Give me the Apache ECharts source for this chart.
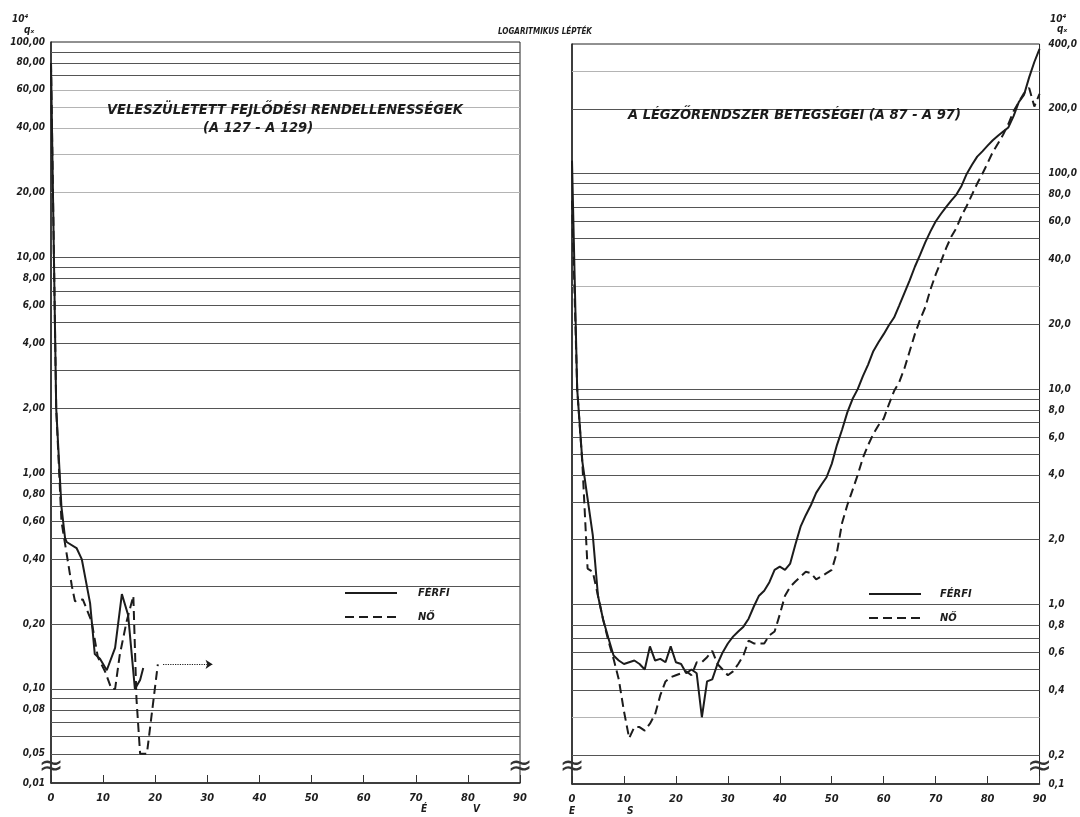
<!DOCTYPE html>
<html>
<head>
<meta charset="utf-8">
<script src="https://cdn.jsdelivr.net/npm/echarts@6/dist/echarts.min.js"></script>
<style>
  html, body { margin: 0; padding: 0; background: #ffffff; }
  #chart { width: 1080px; height: 817px; }
</style>
</head>
<body>
<div id="chart"></div>
<script>
// ---- Data: q_x × 10^4 by age, log scale ----

// Age axis ticks
const ageTicks = [0, 10, 20, 30, 40, 50, 60, 70, 80, 90];

// Congenital malformations (A 127 - A 129): [age, q_x]
const malformMale = [
  [0, 80], [1, 2.0], [2, 0.70], [2.7, 0.50], [3, 0.48], [4.9, 0.45], [5.9, 0.40],
  [7.5, 0.25], [8.4, 0.145], [9.4, 0.138], [10.7, 0.122], [12.3, 0.155],
  [13.6, 0.275], [14.8, 0.22], [16.1, 0.10], [17.1, 0.11], [17.7, 0.125]
];
const malformFemale = [
  [0, 80], [1, 2.0], [2, 0.60], [2.7, 0.47], [4, 0.30], [4.6, 0.255], [6.1, 0.26],
  [7.8, 0.205], [9, 0.14], [10.4, 0.12], [11.6, 0.10], [12.3, 0.10], [13.2, 0.144],
  [14.5, 0.205], [15.8, 0.27], [16.4, 0.09], [17.1, 0.05], [18.4, 0.05], [20.5, 0.13]
];
// dotted continuation of the female curve
const malformFemaleTail = [[21.5, 0.13], [31, 0.13]];

// Diseases of the respiratory system (A 87 - A 97), single years of age
const respAges = [
  0, 1, 2, 3, 4, 5, 6, 7, 8, 9, 10, 11, 12, 13, 14, 15, 16, 17, 18, 19,
  20, 21, 22, 23, 24, 25, 26, 27, 28, 29, 30, 31, 32, 33, 34, 35, 36, 37, 38, 39,
  40, 41, 42, 43, 44, 45, 46, 47, 48, 49, 50, 51, 52, 53, 54, 55, 56, 57, 58, 59,
  60, 61, 62, 63, 64, 65, 66, 67, 68, 69, 70, 71, 72, 73, 74, 75, 76, 77, 78, 79,
  80, 81, 82, 83, 84, 85, 86, 87, 88, 89, 90
];
const respMale = [
  115, 10, 4.6, 3.1, 2.1, 1.1, 0.85, 0.70, 0.58, 0.55,
  0.53, 0.54, 0.55, 0.53, 0.50, 0.64, 0.55, 0.56, 0.54, 0.64,
  0.54, 0.53, 0.48, 0.50, 0.48, 0.30, 0.44, 0.45, 0.53, 0.60,
  0.66, 0.71, 0.75, 0.79, 0.86, 0.98, 1.10, 1.16, 1.27, 1.45,
  1.50, 1.45, 1.55, 1.90, 2.30, 2.60, 2.90, 3.30, 3.60, 3.90,
  4.50, 5.50, 6.50, 7.80, 9.0, 10.0, 11.5, 13.0, 15.0, 16.5,
  18.0, 19.8, 21.5, 24.5, 28.0, 32.0, 37.0, 42.0, 48.0, 54.0,
  60.0, 65.0, 70.0, 75.0, 80.0, 88.0, 100, 110, 120, 127,
  135, 143, 150, 157, 164, 185, 215, 232, 280, 330, 380
];
const respFemale = [
  75, 10, 4.5, 1.47, 1.42, 1.10, 0.85, 0.68, 0.56, 0.45,
  0.32, 0.24, 0.27, 0.27, 0.26, 0.28, 0.31, 0.38, 0.44, 0.46,
  0.47, 0.48, 0.49, 0.47, 0.54, 0.54, 0.57, 0.61, 0.53, 0.50,
  0.47, 0.49, 0.53, 0.58, 0.68, 0.66, 0.66, 0.66, 0.72, 0.75,
  0.90, 1.10, 1.21, 1.28, 1.35, 1.42, 1.40, 1.31, 1.35, 1.40,
  1.45, 1.75, 2.40, 2.90, 3.40, 4.00, 4.80, 5.50, 6.20, 6.80,
  7.30, 8.50, 9.80, 10.8, 12.5, 15.0, 18.0, 21.0, 24.0, 29.0,
  34.0, 39.0, 45.0, 51.0, 56.0, 64.0, 71.0, 80.0, 90.0, 100,
  112, 126, 138, 152, 170, 195, 215, 236, 250, 205, 235
];

// Log-paper rulings and labelled values
const leftRulings = [90, 80, 70, 60, 50, 40, 30, 20, 10, 9, 8, 7, 6, 5, 4, 3, 2, 1,
  0.9, 0.8, 0.7, 0.6, 0.5, 0.4, 0.3, 0.2, 0.1, 0.09, 0.08, 0.07, 0.06, 0.05];
const leftFaintRulings = [60, 50, 40, 30, 20];
const leftTickValues = [80, 60, 40, 20, 10, 8, 6, 4, 2, 1, 0.8, 0.6, 0.4, 0.2, 0.1, 0.08, 0.05];
const leftTickLabels = ['80,00', '60,00', '40,00', '20,00', '10,00', '8,00', '6,00', '4,00',
  '2,00', '1,00', '0,80', '0,60', '0,40', '0,20', '0,10', '0,08', '0,05'];
const leftTopLabel = '100,00';
const leftFloorLabel = '0,01';

const rightRulings = [300, 200, 100, 90, 80, 70, 60, 50, 40, 30, 20, 10, 9, 8, 7, 6, 5, 4, 3, 2, 1,
  0.8, 0.7, 0.6, 0.5, 0.4, 0.3, 0.2];
const rightFaintRulings = [300, 30, 0.3];
const rightTickValues = [200, 100, 80, 60, 40, 20, 10, 8, 6, 4, 2, 1, 0.8, 0.6, 0.4, 0.2];
const rightTickLabels = ['200,0', '100,0', '80,0', '60,0', '40,0', '20,0', '10,0', '8,0',
  '6,0', '4,0', '2,0', '1,0', '0,8', '0,6', '0,4', '0,2'];
const rightTopLabel = '400,0';
const rightFloorLabel = '0,1';

// ---- Axis ranges (the strip below the last ruling is a broken-axis floor) ----
const leftMax = 100, leftMin = 0.0366;
const rightMax = 400, rightMin = 0.147;
const leftBreakAt = 0.0435, rightBreakAt = 0.176;

const FONT = "'Liberation Sans Narrow', 'DejaVu Sans Condensed', 'Liberation Sans', 'DejaVu Sans', sans-serif";
const INK = '#1c1c1c';
const RULE = '#555555';
const RULE_FAINT = '#b4b4b4';

const tickLabelStyle = { fontFamily: FONT, fontStyle: 'italic', fontWeight: 'bold', fontSize: 10, color: INK };

function rulingMarks(rulings, faint, tickValues, tickLabels, side) {
  const pos = side === 'left' ? 'start' : 'end';
  const dist = side === 'left' ? 6 : 9;
  return rulings.map(v => {
    const i = tickValues.indexOf(v);
    return {
      yAxis: v,
      lineStyle: { color: faint.indexOf(v) >= 0 ? RULE_FAINT : RULE, width: 1, type: 'solid' },
      label: i >= 0 ? { show: true, formatter: tickLabels[i], position: pos, distance: dist } : { show: false }
    };
  });
}

// Labels at the two ends of a log axis (top value and broken-axis floor)
function boundFormatter(min, max, minText, maxText) {
  return v => {
    if (Math.abs(v - max) / max < 1e-3) return maxText;
    if (Math.abs(v - min) / min < 1e-3) return minText;
    return '';
  };
}

function breakMarks(xs, yv) {
  return {
    silent: true,
    symbol: 'circle',
    symbolSize: 1,
    itemStyle: { color: 'rgba(0,0,0,0)' },
    label: { show: true, position: 'inside', formatter: '\u2248', fontSize: 30, color: '#333', fontFamily: 'DejaVu Sans' },
    data: xs.map(x => ({ coord: [x, yv] }))
  };
}

const smallText = { fontFamily: FONT, fontStyle: 'italic', fontWeight: 'bold', fontSize: 10, fill: INK };
const legendText = { fontFamily: FONT, fontStyle: 'italic', fontWeight: 'bold', fontSize: 11, fill: INK };

function legendKey(x, ySolid, yDashed, textX) {
  return [
    { type: 'line', shape: { x1: x, y1: ySolid, x2: x + 52, y2: ySolid }, style: { stroke: INK, lineWidth: 2 } },
    { type: 'line', shape: { x1: x, y1: yDashed, x2: x + 52, y2: yDashed }, style: { stroke: INK, lineWidth: 2, lineDash: [9, 5] } },
    { type: 'text', x: textX, y: ySolid, style: Object.assign({ text: 'FÉRFI', verticalAlign: 'middle' }, legendText) },
    { type: 'text', x: textX, y: yDashed, style: Object.assign({ text: 'NŐ', verticalAlign: 'middle' }, legendText) }
  ];
}

const chart = echarts.init(document.getElementById('chart'), null, { renderer: 'canvas' });

const titleStyle = { fontFamily: FONT, fontStyle: 'italic', fontWeight: 'bold', fontSize: 14.5, color: INK };
const smallTitle = { fontFamily: FONT, fontStyle: 'italic', fontWeight: 'bold', fontSize: 10, color: INK };

chart.setOption({
  backgroundColor: '#ffffff',
  animation: false,
  title: [
    { text: 'VELESZÜLETETT FEJLŐDÉSI RENDELLENESSÉGEK', left: 107, top: 103, padding: 0, textStyle: titleStyle },
    { text: '(A 127 - A 129)', left: 203, top: 121, padding: 0, textStyle: titleStyle },
    { text: 'A LÉGZŐRENDSZER BETEGSÉGEI (A 87 - A 97)', left: 628, top: 108, padding: 0, textStyle: titleStyle },
    { text: 'LOGARITMIKUS LÉPTÉK', left: 498, top: 28, padding: 0,
      textStyle: { fontFamily: FONT, fontStyle: 'italic', fontWeight: 'bold', fontSize: 8, color: INK } },
    { text: '10\u2074', left: 12, top: 14, padding: 0, textStyle: smallTitle },
    { text: 'q\u2093', left: 24, top: 25, padding: 0, textStyle: smallTitle },
    { text: '10\u2074', left: 1050, top: 14, padding: 0, textStyle: smallTitle },
    { text: 'q\u2093', left: 1057, top: 24, padding: 0, textStyle: smallTitle },
    { text: 'É', left: 421, top: 804, padding: 0, textStyle: smallTitle },
    { text: 'V', left: 473, top: 804, padding: 0, textStyle: smallTitle },
    { text: 'E', left: 569, top: 806, padding: 0, textStyle: smallTitle },
    { text: 'S', left: 627, top: 806, padding: 0, textStyle: smallTitle }
  ],
  graphic: [].concat(legendKey(345, 593, 617, 418), legendKey(869, 594, 618, 940)),
  grid: [
    { left: 51, top: 42, width: 469, height: 741, show: true, borderColor: '#222', borderWidth: 1, backgroundColor: 'transparent' },
    { left: 572, top: 44, width: 471, height: 740, show: true, borderColor: '#222', borderWidth: 1, backgroundColor: 'transparent' }
  ],
  xAxis: [0, 1].map(g => ({
    gridIndex: g, type: 'value', min: 0, max: 90, interval: 10,
    axisLine: { show: true, lineStyle: { color: '#222', width: 1.5 } },
    axisTick: { show: true, inside: true, length: 8, lineStyle: { color: '#333' } },
    splitLine: { show: false },
    axisLabel: { margin: 10, fontFamily: FONT, fontStyle: 'italic', fontWeight: 'bold', fontSize: 11, color: INK,
      formatter: v => ageTicks.indexOf(v) >= 0 ? String(v) : '' }
  })),
  yAxis: [
    { gridIndex: 0, type: 'log', logBase: 10, min: leftMin, max: leftMax, position: 'left',
      axisLine: { show: true, lineStyle: { color: '#222', width: 1.5 } },
      axisTick: { show: false }, splitLine: { show: false },
      axisLabel: Object.assign({ show: true, showMinLabel: true, showMaxLabel: true, margin: 6,
        formatter: boundFormatter(leftMin, leftMax, leftFloorLabel, leftTopLabel) }, tickLabelStyle) },
    { gridIndex: 1, type: 'log', logBase: 10, min: rightMin, max: rightMax, position: 'right',
      axisLine: { show: true, lineStyle: { color: '#222', width: 1.5 } },
      axisTick: { show: false }, splitLine: { show: false },
      axisLabel: Object.assign({ show: true, showMinLabel: true, showMaxLabel: true, margin: 9,
        formatter: boundFormatter(rightMin, rightMax, rightFloorLabel, rightTopLabel) }, tickLabelStyle) }
  ],
  series: [
    {
      name: 'FÉRFI', type: 'line', xAxisIndex: 0, yAxisIndex: 0, data: malformMale,
      symbol: 'none', z: 5,
      lineStyle: { color: INK, width: 2, type: 'solid' }, itemStyle: { color: INK },
      markLine: {
        silent: true, symbol: ['none', 'none'], animation: false,
        label: tickLabelStyle,
        data: rulingMarks(leftRulings, leftFaintRulings, leftTickValues, leftTickLabels, 'left')
      },
      markPoint: breakMarks([0, 90], leftBreakAt)
    },
    {
      name: 'NŐ', type: 'line', xAxisIndex: 0, yAxisIndex: 0, data: malformFemale,
      symbol: 'none', z: 5,
      lineStyle: { color: INK, width: 2, type: [9, 5] }, itemStyle: { color: INK },
      markLine: {
        silent: true, animation: false,
        symbol: ['none', 'arrow'], symbolSize: 7,
        lineStyle: { color: INK, width: 1.2, type: 'dotted' },
        label: { show: false },
        data: [[{ coord: malformFemaleTail[0] }, { coord: malformFemaleTail[1] }]]
      }
    },
    {
      name: 'FÉRFI', type: 'line', xAxisIndex: 1, yAxisIndex: 1,
      data: respAges.map((a, i) => [a, respMale[i]]),
      symbol: 'none', z: 5,
      lineStyle: { color: INK, width: 2, type: 'solid' }, itemStyle: { color: INK },
      markLine: {
        silent: true, symbol: ['none', 'none'], animation: false,
        label: tickLabelStyle,
        data: rulingMarks(rightRulings, rightFaintRulings, rightTickValues, rightTickLabels, 'right')
      },
      markPoint: breakMarks([0, 90], rightBreakAt)
    },
    {
      name: 'NŐ', type: 'line', xAxisIndex: 1, yAxisIndex: 1,
      data: respAges.map((a, i) => [a, respFemale[i]]),
      symbol: 'none', z: 5,
      lineStyle: { color: INK, width: 2, type: [9, 5] }, itemStyle: { color: INK }
    }
  ]
});
</script>
</body>
</html>
